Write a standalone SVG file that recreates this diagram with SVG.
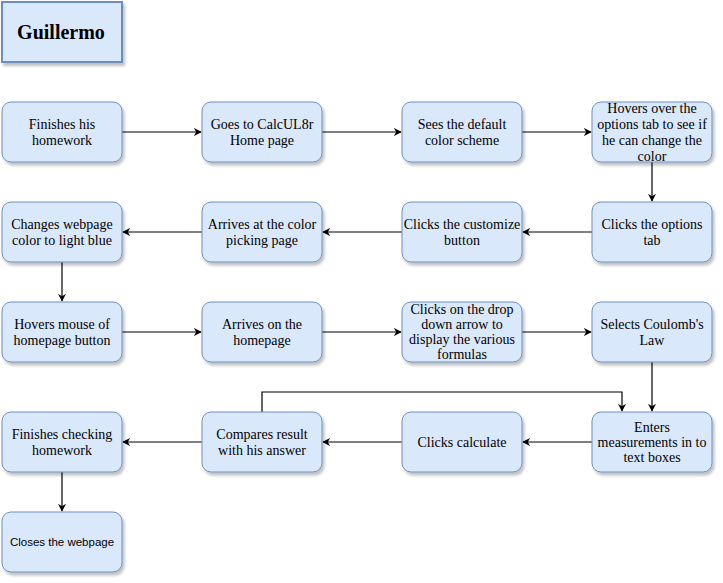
<svg xmlns="http://www.w3.org/2000/svg" width="723" height="583" viewBox="0 0 723 583">
<defs>
<filter id="sh" x="-10%" y="-10%" width="130%" height="130%">
<feDropShadow dx="2" dy="3" stdDeviation="1.5" flood-color="#000" flood-opacity="0.25"/>
</filter>
<marker id="arr" viewBox="0 0 10 10" refX="9" refY="5" markerWidth="8" markerHeight="8" markerUnits="userSpaceOnUse" orient="auto">
<path d="M0,0 L10,5 L0,10 L3,5 Z" fill="#000"/>
</marker>
</defs>
<style>
.n{fill:#dae8fc;stroke:#6c8ebf;stroke-width:1;filter:url(#sh)}
.t{font-family:"Liberation Serif","DejaVu Serif",serif;font-size:14px;fill:#000;text-anchor:middle;dominant-baseline:central}
.s{font-family:"Liberation Sans",Arial,sans-serif;font-size:11.5px;fill:#000;text-anchor:middle;dominant-baseline:central}
.c{fill:none;stroke:#000;stroke-width:1.2;marker-end:url(#arr)}
</style>
<rect width="723" height="583" fill="#fff"/>
<g id="title">
<rect x="2" y="2" width="120" height="60" fill="#dae8fc" stroke="#6c8ebf" stroke-width="2" filter="url(#sh)"/>
<text x="61" y="32" class="t" style="font-size:20px;font-weight:bold">Guillermo</text>
</g>
<g id="connectors">
<path class="c" d="M122,132 H201"/>
<path class="c" d="M322,132 H401"/>
<path class="c" d="M522,132 H591"/>
<path class="c" d="M652,162 V201"/>
<path class="c" d="M592,232 H523"/>
<path class="c" d="M402,232 H323"/>
<path class="c" d="M202,232 H123"/>
<path class="c" d="M62,262 V301"/>
<path class="c" d="M122,332 H201"/>
<path class="c" d="M322,332 H401"/>
<path class="c" d="M522,332 H591"/>
<path class="c" d="M652,362 V411"/>
<path class="c" d="M592,442 H523"/>
<path class="c" d="M402,442 H323"/>
<path class="c" d="M202,442 H123"/>
<path class="c" d="M262,412 V392 H622 V411"/>
<path class="c" d="M62,472 V511"/>
</g>
<g id="n1"><rect class="n" x="2" y="102" width="120" height="60" rx="9"/><text class="t" x="62" y="124">Finishes his</text><text class="t" x="62" y="140">homework</text></g>
<g id="n2"><rect class="n" x="202" y="102" width="120" height="60" rx="9"/><text class="t" x="262" y="124">Goes to CalcUL8r</text><text class="t" x="262" y="140">Home page</text></g>
<g id="n3"><rect class="n" x="402" y="102" width="120" height="60" rx="9"/><text class="t" x="462" y="124">Sees the default</text><text class="t" x="462" y="140">color scheme</text></g>
<g id="n4"><rect class="n" x="592" y="102" width="120" height="60" rx="9"/><text class="t" x="652" y="108">Hovers over the</text><text class="t" x="652" y="124">options tab to see if</text><text class="t" x="652" y="140">he can change the</text><text class="t" x="652" y="156">color</text></g>
<g id="n5"><rect class="n" x="592" y="202" width="120" height="60" rx="9"/><text class="t" x="652" y="224">Clicks the options</text><text class="t" x="652" y="240">tab</text></g>
<g id="n6"><rect class="n" x="402" y="202" width="120" height="60" rx="9"/><text class="t" x="462" y="224">Clicks the customize</text><text class="t" x="462" y="240">button</text></g>
<g id="n7"><rect class="n" x="202" y="202" width="120" height="60" rx="9"/><text class="t" x="262" y="224">Arrives at the color</text><text class="t" x="262" y="240">picking page</text></g>
<g id="n8"><rect class="n" x="2" y="202" width="120" height="60" rx="9"/><text class="t" x="62" y="224">Changes webpage</text><text class="t" x="62" y="240">color to light blue</text></g>
<g id="n9"><rect class="n" x="2" y="302" width="120" height="60" rx="9"/><text class="t" x="62" y="324">Hovers mouse of</text><text class="t" x="62" y="340">homepage button</text></g>
<g id="n10"><rect class="n" x="202" y="302" width="120" height="60" rx="9"/><text class="t" x="262" y="324">Arrives on the</text><text class="t" x="262" y="340">homepage</text></g>
<g id="n11"><rect class="n" x="402" y="302" width="120" height="60" rx="9"/><text class="t" x="462" y="309">Clicks on the drop</text><text class="t" x="462" y="324">down arrow to</text><text class="t" x="462" y="339">display the various</text><text class="t" x="462" y="354">formulas</text></g>
<g id="n12"><rect class="n" x="592" y="302" width="120" height="60" rx="9"/><text class="t" x="652" y="324">Selects Coulomb's</text><text class="t" x="652" y="340">Law</text></g>
<g id="n13"><rect class="n" x="592" y="412" width="120" height="60" rx="9"/><text class="t" x="652" y="427">Enters</text><text class="t" x="652" y="442">measurements in to</text><text class="t" x="652" y="457">text boxes</text></g>
<g id="n14"><rect class="n" x="402" y="412" width="120" height="60" rx="9"/><text class="t" x="462" y="442">Clicks calculate</text></g>
<g id="n15"><rect class="n" x="202" y="412" width="120" height="60" rx="9"/><text class="t" x="262" y="434">Compares result</text><text class="t" x="262" y="450">with his answer</text></g>
<g id="n16"><rect class="n" x="2" y="412" width="120" height="60" rx="9"/><text class="t" x="62" y="434">Finishes checking</text><text class="t" x="62" y="450">homework</text></g>
<g id="n17"><rect class="n" x="2" y="512" width="120" height="60" rx="9"/><text class="s" x="62" y="542">Closes the webpage</text></g>
</svg>
